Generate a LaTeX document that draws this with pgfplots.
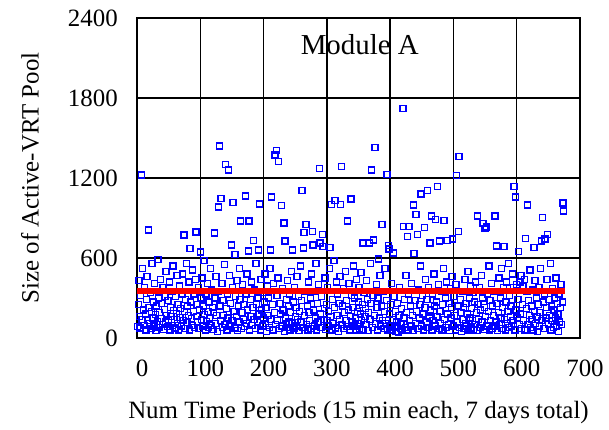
\documentclass[border=0pt]{standalone}
\usepackage{fontspec}
\setmainfont{Liberation Serif}
\usepackage{pgfplots}
\pgfplotsset{compat=1.18}

\begin{document}
\begin{tikzpicture}
\begin{axis}[
    set layers,
    scale only axis,
    width=443bp, height=320bp,
    xmin=0, xmax=700, ymin=0, ymax=2400,
    xtick={0,100,...,700}, ytick={0,600,...,2400},
    grid=major,
    major grid style={black, line width=1.4bp},
    axis line style={black, line width=1.4bp},
    major tick length=0pt,
    /pgf/number format/assume math mode=true,
    /pgf/number format/1000 sep={},
    tick label style={font=\fontsize{25}{25}\selectfont, inner sep=0pt},
    xticklabel style={anchor=center, yshift=-30bp, xshift=5bp},
    yticklabel style={anchor=east, xshift=-19bp},
    label style={font=\fontsize{25}{25}\selectfont},
    xlabel={Num Time Periods (15 min each, 7 days total)},
    ylabel={Size of Active-VRT Pool},
    xlabel style={at={(axis description cs:0.5,-0.234)}, anchor=center},
    ylabel style={at={(axis description cs:-0.2415,0.5)}, anchor=center},
    clip=false,
]
\coordinate (O) at (axis cs:0,0);
\addplot[only marks, mark=square, mark size=3bp, blue, mark options={line width=1.4bp}] coordinates {
(1,88)(2,250)(3,430)(4,160)(5,75)(6,320)(7,1222)(8,140)(9,520)(10,210)
(11,95)(12,380)(13,180)(14,60)(15,290)(16,460)(17,130)(18,811)(19,230)(20,110)
(21,340)(22,70)(23,200)(24,560)(25,150)(26,270)(27,90)(28,410)(29,175)(30,55)
(31,240)(32,125)(33,590)(34,300)(35,80)(36,190)(37,440)(38,145)(39,260)(40,100)
(41,380)(42,65)(43,215)(44,310)(45,120)(46,500)(47,170)(48,85)(49,280)(50,135)
(51,420)(52,60)(53,230)(54,160)(55,350)(56,95)(57,540)(58,205)(59,140)(60,75)
(61,310)(62,185)(63,470)(64,110)(65,250)(66,60)(67,390)(68,155)(69,220)(70,90)
(71,330)(72,480)(73,130)(74,771)(75,200)(76,70)(77,290)(78,560)(79,115)(80,240)
(81,170)(82,420)(83,60)(84,670)(85,270)(86,145)(87,95)(88,510)(89,200)(90,330)
(91,80)(92,440)(93,794)(94,160)(95,250)(96,120)(97,380)(98,70)(99,210)(100,645)
(101,300)(102,140)(103,450)(104,90)(105,240)(106,580)(107,175)(108,60)(109,330)(110,125)
(111,410)(112,200)(113,80)(114,270)(115,150)(116,520)(117,95)(118,360)(119,230)(120,65)
(121,190)(122,786)(123,300)(124,110)(125,460)(126,170)(127,50)(128,350)(129,983)(130,1441)
(131,240)(132,130)(133,1048)(134,410)(135,80)(136,280)(137,170)(138,550)(139,100)(140,1303)
(141,220)(142,60)(143,330)(144,150)(145,1260)(146,470)(147,90)(148,260)(149,696)(150,130)
(151,380)(152,1016)(153,200)(154,75)(155,625)(156,310)(157,160)(158,430)(159,55)(160,240)
(161,120)(162,520)(163,290)(164,877)(165,70)(166,190)(167,400)(168,140)(169,250)(170,85)
(171,1066)(172,330)(173,110)(174,480)(175,210)(176,653)(177,877)(178,60)(179,290)(180,160)
(181,420)(182,95)(183,230)(184,731)(185,140)(186,360)(187,70)(188,560)(189,250)(190,120)
(191,300)(192,660)(193,180)(194,1005)(195,60)(196,440)(197,210)(198,90)(199,340)(200,150)
(201,270)(202,480)(203,110)(204,230)(205,50)(206,390)(207,170)(208,300)(209,80)(210,520)
(211,660)(212,140)(213,1056)(214,250)(215,60)(216,410)(217,190)(218,1371)(219,100)(220,1404)
(221,320)(222,130)(223,450)(224,1323)(225,70)(226,260)(227,180)(228,993)(229,90)(230,370)
(231,210)(232,862)(233,50)(234,726)(235,150)(236,290)(237,80)(238,430)(239,240)(240,120)
(241,330)(242,60)(243,190)(244,500)(245,110)(246,660)(247,270)(248,75)(249,380)(250,160)
(251,230)(252,90)(253,460)(254,140)(255,310)(256,55)(257,200)(258,540)(259,120)(260,280)
(261,1106)(262,80)(263,675)(264,789)(265,170)(266,350)(267,852)(268,100)(269,240)(270,60)
(271,420)(272,190)(273,130)(274,300)(275,70)(276,480)(277,799)(278,698)(279,210)(280,90)
(281,350)(282,150)(283,560)(284,60)(285,260)(286,120)(287,400)(288,1273)(289,713)(290,180)
(291,80)(292,310)(293,774)(294,685)(295,140)(296,220)(297,450)(298,65)(299,250)(300,130)
(301,380)(302,90)(303,200)(304,520)(305,680)(306,160)(307,1000)(308,60)(309,290)(310,110)
(311,580)(312,230)(313,1033)(314,75)(315,420)(316,170)(317,330)(318,50)(319,260)(320,140)
(321,460)(322,1000)(323,1285)(324,100)(325,240)(326,370)(327,70)(328,190)(329,500)(330,130)
(331,280)(332,85)(333,877)(334,210)(335,410)(336,60)(337,160)(338,1041)(339,320)(340,120)
(341,230)(342,540)(343,90)(344,300)(345,150)(346,60)(347,440)(348,200)(349,110)(350,270)
(351,380)(352,70)(353,180)(354,490)(355,130)(356,250)(357,711)(358,60)(359,340)(360,160)
(361,220)(362,100)(363,430)(364,290)(365,55)(366,190)(367,711)(368,140)(369,560)(370,260)
(371,1260)(372,80)(373,320)(374,736)(375,170)(376,1429)(377,110)(378,400)(379,230)(380,60)
(381,300)(382,592)(383,150)(384,470)(385,90)(386,240)(387,849)(388,130)(389,350)(390,70)
(391,200)(392,520)(393,110)(394,280)(395,1225)(396,60)(397,693)(398,668)(399,180)(400,90)
(401,250)(402,410)(403,60)(404,140)(405,638)(406,310)(407,80)(408,200)(409,50)(410,120)
(411,90)(412,260)(413,45)(414,170)(415,380)(416,70)(417,110)(418,220)(419,60)(420,1719)
(421,837)(422,150)(423,290)(424,80)(425,470)(426,190)(427,761)(428,60)(429,330)(430,837)
(431,130)(432,240)(433,90)(434,410)(435,170)(436,55)(437,998)(438,635)(439,280)(440,110)
(441,927)(442,200)(443,774)(444,70)(445,360)(446,150)(447,250)(448,540)(449,1081)(450,90)
(451,320)(452,180)(453,60)(454,827)(455,230)(456,440)(457,120)(458,290)(459,1106)(460,80)
(461,380)(462,150)(463,711)(464,210)(465,915)(466,60)(467,330)(468,130)(469,480)(470,240)
(471,90)(472,887)(473,270)(474,160)(475,1134)(476,400)(477,70)(478,728)(479,200)(480,110)
(481,350)(482,60)(483,250)(484,520)(485,882)(486,140)(487,300)(488,80)(489,420)(490,731)
(491,180)(492,100)(493,260)(494,55)(495,370)(496,150)(497,230)(498,460)(499,741)(500,90)
(501,310)(502,170)(503,60)(504,400)(505,1217)(506,120)(507,240)(508,799)(509,1361)(510,80)
(511,290)(512,190)(513,50)(514,350)(515,140)(516,230)(517,70)(518,440)(519,110)(520,260)
(521,90)(522,180)(523,500)(524,60)(525,300)(526,150)(527,390)(528,75)(529,220)(530,130)
(531,340)(532,60)(533,270)(534,100)(535,420)(536,190)(537,55)(538,915)(539,250)(540,140)
(541,380)(542,80)(543,210)(544,470)(545,120)(546,300)(547,857)(548,65)(549,230)(550,819)
(551,160)(552,832)(553,90)(554,330)(555,200)(556,540)(557,60)(558,280)(559,130)(560,410)
(561,70)(562,240)(563,170)(564,90)(565,350)(566,915)(567,120)(568,690)(569,260)(570,55)
(571,190)(572,450)(573,100)(574,300)(575,150)(576,520)(577,70)(578,230)(579,380)(580,685)
(581,140)(582,60)(583,270)(584,420)(585,110)(586,200)(587,560)(588,80)(589,320)(590,160)
(591,240)(592,90)(593,480)(594,130)(595,380)(596,1134)(597,60)(598,1056)(599,210)(600,400)
(601,150)(602,290)(603,650)(604,100)(605,420)(606,180)(607,470)(608,70)(609,250)(610,390)
(611,130)(612,440)(613,60)(614,746)(615,220)(616,350)(617,998)(618,100)(619,280)(620,170)
(621,510)(622,80)(623,240)(624,140)(625,360)(626,60)(627,680)(628,200)(629,430)(630,110)
(631,300)(632,160)(633,50)(634,250)(635,380)(636,90)(637,190)(638,520)(639,726)(640,130)
(641,902)(642,270)(643,70)(644,330)(645,741)(646,150)(647,230)(648,440)(649,776)(650,100)
(651,290)(652,170)(653,560)(654,60)(655,240)(656,130)(657,370)(658,80)(659,210)(660,300)
(661,150)(662,450)(663,90)(664,260)(665,180)(666,50)(667,330)(668,120)(669,230)(670,400)
(671,100)(672,270)(673,1013)(674,953)
};
\addplot[red, line width=6.5bp, on layer=axis foreground] coordinates {(0,353) (676,353)};
\node[font=\fontsize{29}{29}\selectfont] at (axis cs:352,2197) {Module A};
\end{axis}
\pgfresetboundingbox
\path[use as bounding box] (O) ++(-137bp,-92bp) rectangle ++(609bp,430bp);
\end{tikzpicture}
\end{document}
